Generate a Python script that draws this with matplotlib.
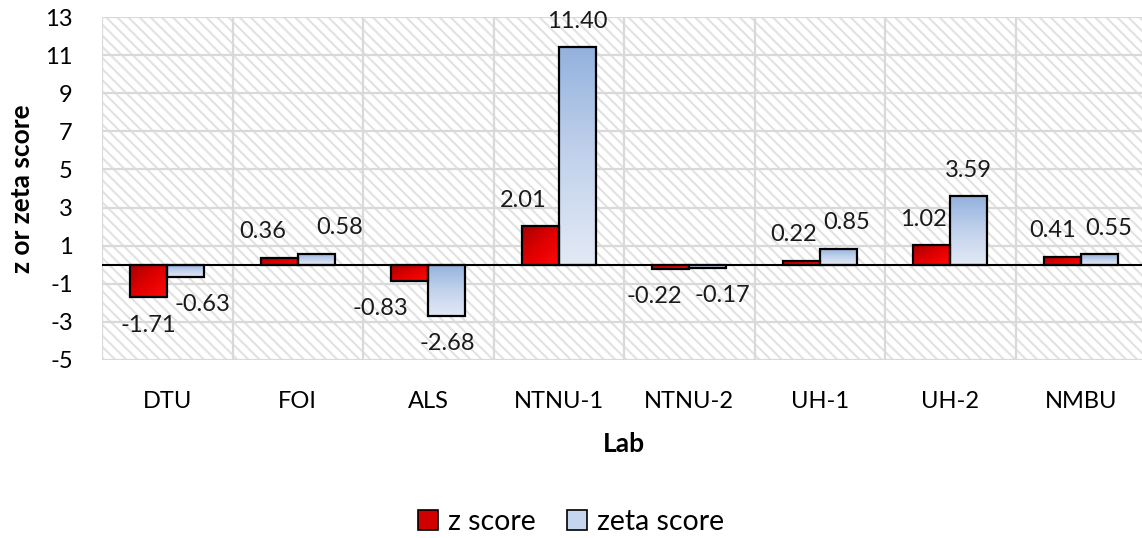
import numpy as np
import matplotlib
matplotlib.use("Agg")
import matplotlib.pyplot as plt
from matplotlib.patches import Patch
from matplotlib.colors import LinearSegmentedColormap

# ---- data ----
labs = ["DTU", "FOI", "ALS", "NTNU-1", "NTNU-2", "UH-1", "UH-2", "NMBU"]
z_score = [-1.71, 0.36, -0.83, 2.01, -0.22, 0.22, 1.02, 0.41]
zeta_score = [-0.63, 0.58, -2.68, 11.40, -0.17, 0.85, 3.59, 0.55]
y_ticks = [-5, -3, -1, 1, 3, 5, 7, 9, 11, 13]
series_names = ["z score", "zeta score"]

# ---- layout (label nudges in pixels) ----
z_dx = [0, -16, -29, -17, -16, -8, -8, -10]
zeta_dx = [17, 23, 0, 0, 15, 8, 0, 9]

plt.rcParams['font.family'] = ['Lato', 'DejaVu Sans']
plt.rcParams['hatch.linewidth'] = 1.5
plt.rcParams['hatch.color'] = '#e2e2e2'

W, H = 1142, 538
fig = plt.figure(figsize=(W / 100, H / 100), dpi=100)
ax = fig.add_axes([102 / W, (H - 360) / H, (1146 - 102) / W, (360 - 17) / H])

x = np.arange(len(labs))
bw = 0.284

# hatched background
ax.patch.set_facecolor('white')
bg = plt.Rectangle((-0.5, -5), len(labs), 18, facecolor='white', edgecolor='#e2e2e2',
                   hatch='\\\\\\', linewidth=0, zorder=0)
ax.add_patch(bg)

# grid
for yv in y_ticks:
    ax.axhline(yv, color='#d9d9d9', lw=1.6, zorder=1)
for xv in np.arange(-0.5, len(labs), 1.0):
    ax.axvline(xv, color='#d9d9d9', lw=1.6, zorder=1)

red_cmap = LinearSegmentedColormap.from_list('r', ['#a80000', '#e00000', '#ff0a0a'])
blue_cmap = LinearSegmentedColormap.from_list('b', ['#94b2de', '#c2d2ec', '#e2e9f5'])

def grad_bar(x0, val, kind):
    y0, y1 = min(0, val), max(0, val)
    if kind == 'z':
        g = np.add.outer(np.linspace(0, 1, 30), np.linspace(0, 1, 30)) / 2.0
        ax.imshow(g, cmap=red_cmap, extent=(x0, x0 + bw, y0, y1), origin='upper',
                  aspect='auto', zorder=3, interpolation='bilinear')
    else:
        g = np.tile(np.linspace(0, 1, 60)[:, None], (1, 2))
        ax.imshow(g, cmap=blue_cmap, extent=(x0, x0 + bw, y0, y1), origin='upper',
                  aspect='auto', zorder=3, interpolation='bilinear')

ax.bar(x - bw / 2, z_score, bw, facecolor='none', edgecolor='black', lw=1.6, zorder=4)
ax.bar(x + bw / 2, zeta_score, bw, facecolor='none', edgecolor='black', lw=1.6, zorder=4)
for i in range(len(labs)):
    grad_bar(x[i] - bw, z_score[i], 'z')
    grad_bar(x[i], zeta_score[i], 'zeta')

ax.set_xlim(-0.5, len(labs) - 0.5)
ax.set_ylim(-5, 13)
ax.axhline(0, color='black', lw=1.5, zorder=5)

fs = 17
for i in range(len(labs)):
    for val, xc, dx in ((z_score[i], x[i] - bw / 2, z_dx[i]), (zeta_score[i], x[i] + bw / 2, zeta_dx[i])):
        dy = 26 if val >= 0 else -28
        ax.annotate(f"{val:.2f}", (xc, val), xytext=(dx, dy), textcoords='offset pixels',
                    ha='center', va='center', fontsize=fs, color='#1a1a1a', zorder=6)

for s in ax.spines.values():
    s.set_visible(False)
ax.set_xticks(x)
ax.set_xticklabels(labs, fontsize=fs)
ax.set_yticks(y_ticks)
ax.set_yticklabels([str(v) for v in y_ticks], fontsize=fs)
ax.tick_params(axis='both', length=0)
ax.tick_params(axis='y', pad=21)
ax.tick_params(axis='x', pad=22)
ax.set_xlabel("Lab", fontsize=19, fontweight='bold', labelpad=15)
ax.set_ylabel("z or zeta score", fontsize=19, fontweight='bold', labelpad=8)

handles = [Patch(facecolor='#d00000', edgecolor='black', lw=1.2),
           Patch(facecolor='#c6d5ee', edgecolor='black', lw=1.2)]
fig.legend(handles, series_names, loc='center', bbox_to_anchor=(0.5, 1 - 522 / H),
           ncol=2, frameon=False, fontsize=20.5, handlelength=0.7, handleheight=0.7,
           handletextpad=0.35, columnspacing=1.1)

fig.savefig("out.png", dpi=100)
